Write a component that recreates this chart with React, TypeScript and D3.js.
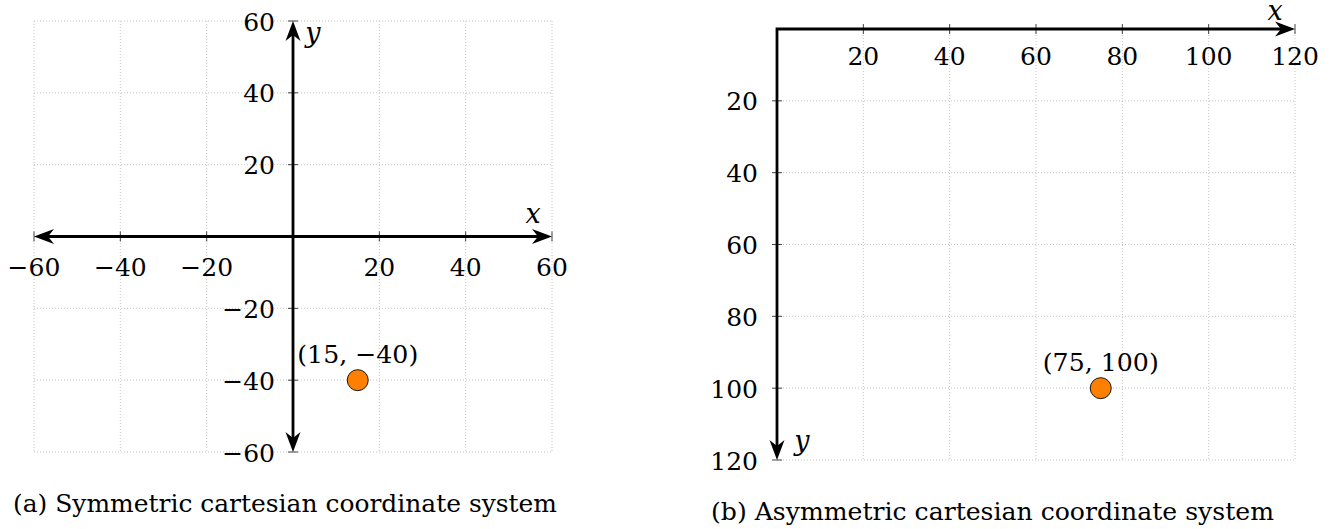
import React from 'react';
import * as d3 from 'd3';

const W = 1333;
const H = 529;

// (a) symmetric system
const symTicks = [-60, -40, -20, 0, 20, 40, 60];
const symLabelsX = [-60, -40, -20, 20, 40, 60];
const symLabelsY = [60, 40, 20, -20, -40, -60];
const symPoint = { x: 15, y: -40, label: '(15, −40)' };

// (b) asymmetric system
const asymTicks = [20, 40, 60, 80, 100, 120];
const asymPoint = { x: 75, y: 100, label: '(75, 100)' };

const captions = [
  '(a) Symmetric cartesian coordinate system',
  '(b) Asymmetric cartesian coordinate system',
];

// DejaVu Serif is what ends up rendering here, sizes tuned for it
const serif = "'DejaVu Serif', serif";
const gridStyle = { stroke: '#c4c4c4', strokeWidth: 1, strokeDasharray: '1 2', fill: 'none' };
const tickStyle = { stroke: '#444', strokeWidth: 1 };
const txt = { fontFamily: serif, fontSize: 25 };
const ital = { fontFamily: serif, fontSize: 27, fontStyle: 'italic' };
const axisW = 2.8;
const fmt = (v: number) => (v < 0 ? '−' + Math.abs(v) : String(v));

// stealth arrow head pointing along +x, tip at origin
const arrowPath = 'M0,0 L-20,-7.5 L-14,0 L-20,7.5 Z';
const Arrow = ({ x, y, angle }: { x: number; y: number; angle: number }) => (
  <path d={arrowPath} transform={`translate(${x},${y}) rotate(${angle})`} fill="#000" />
);

const Point = ({ cx, cy, label, width }: { cx: number; cy: number; label: string; width: number }) => (
  <g>
    <circle cx={cx} cy={cy} r={10.5} fill="#ff8000" stroke="#000" strokeWidth={0.9} />
    <text
      x={cx}
      y={cy - 17}
      textAnchor="middle"
      style={txt}
      textLength={width}
      lengthAdjust="spacingAndGlyphs"
    >
      {label}
    </text>
  </g>
);

const Symmetric = () => {
  const x = d3.scaleLinear().domain([-60, 60]).range([34, 552]);
  const y = d3.scaleLinear().domain([-60, 60]).range([452, 21]);
  const x0 = x(0);
  const y0 = y(0);
  const [xa, xb] = x.range();
  const [ya, yb] = y.range();
  return (
    <g>
      {symTicks.map(t => (
        <line key={'gv' + t} x1={x(t)} x2={x(t)} y1={yb} y2={ya} style={gridStyle} />
      ))}
      {symTicks.map(t => (
        <line key={'gh' + t} x1={xa} x2={xb} y1={y(t)} y2={y(t)} style={gridStyle} />
      ))}
      {symTicks.filter(t => t !== 0).map(t => (
        <g key={'t' + t}>
          <line x1={x(t)} x2={x(t)} y1={y0 - 5} y2={y0 + 5} style={tickStyle} />
          <line x1={x0 - 5} x2={x0 + 5} y1={y(t)} y2={y(t)} style={tickStyle} />
        </g>
      ))}
      <line x1={xa + 12} x2={xb - 12} y1={y0} y2={y0} stroke="#000" strokeWidth={axisW} />
      <line x1={x0} x2={x0} y1={yb + 12} y2={ya - 12} stroke="#000" strokeWidth={axisW} />
      <Arrow x={xb} y={y0} angle={0} />
      <Arrow x={xa} y={y0} angle={180} />
      <Arrow x={x0} y={yb} angle={-90} />
      <Arrow x={x0} y={ya} angle={90} />
      {symLabelsX.map(t => (
        <text key={'lx' + t} x={x(t)} y={y0 + 39} textAnchor="middle" style={txt}>
          {fmt(t)}
        </text>
      ))}
      {symLabelsY.map(t => (
        <text key={'ly' + t} x={x0 - 18} y={y(t) + 9.5} textAnchor="end" style={txt}>
          {fmt(t)}
        </text>
      ))}
      <text x={xb - 19} y={y0 - 14} textAnchor="middle" style={ital}>x</text>
      <text x={x0 + 20} y={yb + 21} textAnchor="middle" style={ital}>y</text>
      <Point cx={x(symPoint.x)} cy={y(symPoint.y)} label={symPoint.label} width={121} />
    </g>
  );
};

const Asymmetric = () => {
  const x = d3.scaleLinear().domain([0, 120]).range([777, 1295]);
  const y = d3.scaleLinear().domain([0, 120]).range([29, 460]);
  const x0 = x(0);
  const y0 = y(0);
  const xb = x(120);
  const yb = y(120);
  return (
    <g>
      {asymTicks.map(t => (
        <line key={'gv' + t} x1={x(t)} x2={x(t)} y1={y0} y2={yb} style={gridStyle} />
      ))}
      {asymTicks.map(t => (
        <line key={'gh' + t} x1={x0} x2={xb} y1={y(t)} y2={y(t)} style={gridStyle} />
      ))}
      {asymTicks.map(t => (
        <g key={'t' + t}>
          <line x1={x(t)} x2={x(t)} y1={y0 - 5} y2={y0 + 5} style={tickStyle} />
          <line x1={x0 - 5} x2={x0 + 5} y1={y(t)} y2={y(t)} style={tickStyle} />
        </g>
      ))}
      <path
        d={`M${xb - 12},${y0} L${x0},${y0} L${x0},${yb - 12}`}
        fill="none"
        stroke="#000"
        strokeWidth={axisW}
        strokeLinejoin="miter"
      />
      <Arrow x={xb} y={y0} angle={0} />
      <Arrow x={x0} y={yb} angle={90} />
      {asymTicks.map(t => (
        <text key={'lx' + t} x={x(t)} y={y0 + 36} textAnchor="middle" style={txt}>
          {fmt(t)}
        </text>
      ))}
      {asymTicks.map(t => (
        <text key={'ly' + t} x={x0 - 19} y={y(t) + 9.5} textAnchor="end" style={txt}>
          {fmt(t)}
        </text>
      ))}
      <text x={xb - 20} y={y0 - 9} textAnchor="middle" style={ital}>x</text>
      <text x={x0 + 25} y={yb - 10} textAnchor="middle" style={ital}>y</text>
      <Point cx={x(asymPoint.x)} cy={y(asymPoint.y)} label={asymPoint.label} width={116} />
    </g>
  );
};

export default function App() {
  return (
    <svg
      width={W}
      height={H}
      viewBox={`0 0 ${W} ${H}`}
      style={{ position: 'absolute', left: 0, top: 0, background: '#fff', display: 'block' }}
    >
      <Symmetric />
      <Asymmetric />
      <text
        x={13}
        y={512}
        style={{ fontFamily: serif, fontSize: 25 }}
        textLength={544}
        lengthAdjust="spacingAndGlyphs"
      >
        {captions[0]}
      </text>
      <text
        x={711}
        y={520}
        style={{ fontFamily: serif, fontSize: 25 }}
        textLength={563}
        lengthAdjust="spacingAndGlyphs"
      >
        {captions[1]}
      </text>
    </svg>
  );
}
